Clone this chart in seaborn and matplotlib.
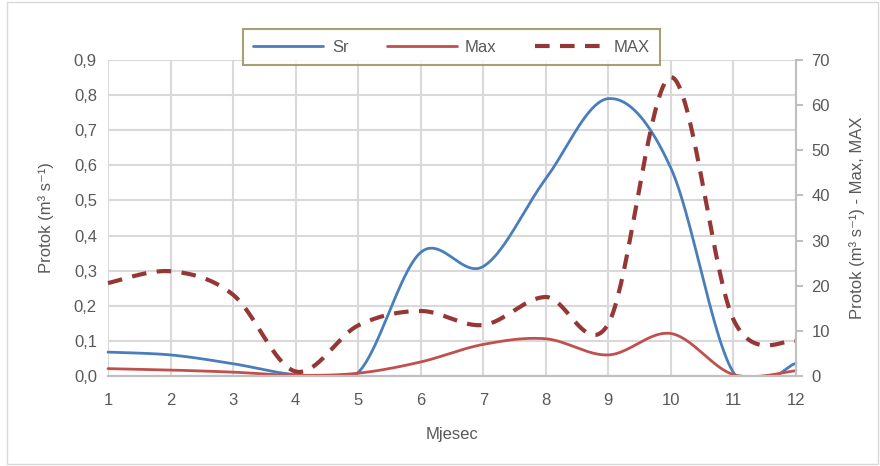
import numpy as np
import pandas as pd
import matplotlib
matplotlib.use("Agg")
import matplotlib.pyplot as plt
import seaborn as sns
from matplotlib.patches import Rectangle
from matplotlib.ticker import FuncFormatter, MultipleLocator

months = [1, 2, 3, 4, 5, 6, 7, 8, 9, 10, 11, 12]
sr_vals = [0.068, 0.060, 0.035, 0.004, 0.010, 0.352, 0.312, 0.562, 0.790, 0.592, 0.010, 0.036]
max_vals = [0.021, 0.017, 0.011, 0.002, 0.008, 0.040, 0.090, 0.106, 0.060, 0.121, 0.004, 0.015]
big_max_vals = [20.6, 23.2, 18.0, 1.0, 11.2, 14.4, 11.3, 17.5, 11.6, 66.2, 12.5, 7.8]

SR_COLOR = "#4A7EBB"
MAX_COLOR = "#C0504D"
BIGMAX_COLOR = "#953735"
TEXT_COLOR = "#595959"
GRID_COLOR = "#D9D9D9"


def smooth(x, y, n=40):
    # Excel-style smoothed line: cubic Bezier segments through every point
    x = np.asarray(x, float)
    y = np.asarray(y, float)
    px = np.concatenate([[x[0]], x, [x[-1]]])
    py = np.concatenate([[y[0]], y, [y[-1]]])
    xs, ys = [], []
    t = np.linspace(0, 1, n)
    for i in range(1, len(px) - 2):
        p0 = np.array([px[i - 1], py[i - 1]])
        p1 = np.array([px[i], py[i]])
        p2 = np.array([px[i + 1], py[i + 1]])
        p3 = np.array([px[i + 2], py[i + 2]])
        c1 = p1 + (p2 - p0) / 6
        c2 = p2 - (p3 - p1) / 6
        pts = ((1 - t) ** 3)[:, None] * p1 + (3 * (1 - t) ** 2 * t)[:, None] * c1 \
            + (3 * (1 - t) * t ** 2)[:, None] * c2 + (t ** 3)[:, None] * p2
        xs.extend(pts[:, 0])
        ys.extend(pts[:, 1])
    return pd.DataFrame({"x": xs, "y": ys})


sns.set_theme(style="white")
plt.rcParams["font.family"] = ["Liberation Sans", "DejaVu Sans"]

fig = plt.figure(figsize=(8.8, 4.66), dpi=100)
ax = fig.add_axes([108 / 880, 1 - 376 / 466, 688 / 880, 316 / 466])
ax2 = ax.twinx()

sr = smooth(months, sr_vals)
mx = smooth(months, max_vals)
bm = smooth(months, big_max_vals)

sns.lineplot(data=sr, x="x", y="y", sort=False, ax=ax, color=SR_COLOR, linewidth=2, label="Sr", legend=False)
sns.lineplot(data=mx, x="x", y="y", sort=False, ax=ax, color=MAX_COLOR, linewidth=2, label="Max", legend=False)
sns.lineplot(data=bm, x="x", y="y", sort=False, ax=ax2, color=BIGMAX_COLOR, linewidth=3,
             linestyle=(0, (3.5, 2.5)), label="MAX", legend=False)
# clip at the x axis like Excel, but let line ends show at the sides
for a in (ax, ax2):
    clip = Rectangle((-0.02, 0), 1.04, 1.2, transform=a.transAxes)
    for ln in a.lines:
        ln.set_clip_path(clip)

ax.set_xlim(1, 12)
ax.set_ylim(0, 0.9)
ax2.set_ylim(0, 70)
ax.xaxis.set_major_locator(MultipleLocator(1))
ax.yaxis.set_major_locator(MultipleLocator(0.1))
ax2.yaxis.set_major_locator(MultipleLocator(10))
ax.yaxis.set_major_formatter(FuncFormatter(lambda v, p: f"{v:.1f}".replace(".", ",")))

ax.grid(True, color=GRID_COLOR, linewidth=1.5)
ax.set_axisbelow(True)

for a in (ax, ax2):
    for s in ("top", "left"):
        a.spines[s].set_visible(False)
    a.spines["right"].set_visible(a is ax2)
    a.spines["bottom"].set_color("#BFBFBF")
    a.spines["right"].set_color("#BFBFBF")
    a.spines["bottom"].set_linewidth(1.5)
    a.spines["right"].set_linewidth(1.5)

ax.tick_params(axis="both", colors=TEXT_COLOR, labelsize=12, length=0, pad=8)
ax.tick_params(axis="x", pad=12)
ax2.tick_params(axis="y", colors=TEXT_COLOR, labelsize=12, length=5, width=1.5, color="#BFBFBF", pad=6)

ax.set_xlabel("Mjesec", color=TEXT_COLOR, fontsize=12, labelpad=14)
ax.set_ylabel("Protok (m³ s⁻¹)", color=TEXT_COLOR, fontsize=12, labelpad=14)
ax2.set_ylabel("Protok (m³ s⁻¹) - Max, MAX", color=TEXT_COLOR, fontsize=12, labelpad=14)

h1, l1 = ax.get_legend_handles_labels()
h2, l2 = ax2.get_legend_handles_labels()
leg = fig.legend(h1 + h2, l1 + l2, loc="center", bbox_to_anchor=(451.5 / 880, 1 - 47 / 466),
                 ncol=3, frameon=True, fancybox=False, fontsize=12, handlelength=4.2,
                 columnspacing=2.3, handletextpad=0.5, borderpad=0.65, borderaxespad=0)
leg.get_frame().set_edgecolor("#938953")
leg.get_frame().set_linewidth(1.5)
for t in leg.get_texts():
    t.set_color(TEXT_COLOR)

fig.patches.append(plt.Rectangle((0.008, 0.005), 0.99, 0.99, transform=fig.transFigure,
                                 fill=False, edgecolor="#D9D9D9", linewidth=1))

fig.savefig("out.png", dpi=100)
